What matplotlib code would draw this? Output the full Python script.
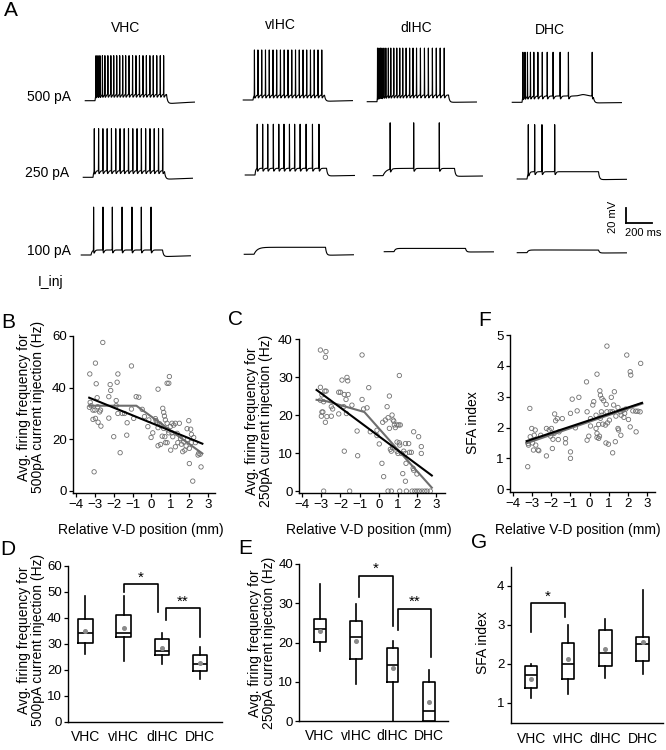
import numpy as np
import matplotlib
matplotlib.use('Agg')
import matplotlib.pyplot as plt

plt.rcParams['font.family'] = ['Liberation Sans', 'DejaVu Sans']

W, H = 666, 750
fig = plt.figure(figsize=(6.66, 7.5), dpi=100)

# ------------------------------------------------------------------ data
cells = ['VHC', 'vIHC', 'dIHC', 'DHC']
current_labels = ['500 pA', '250 pA', '100 pA']

# spike times (ms after step onset)
spk_VHC_500 = [8, 23, 38, 57, 76, 99, 122, 144, 167, 190, 213, 236, 262, 289, 315,
               342, 369, 395, 422, 448, 475, 502, 528]
spk_vIHC_500 = [11, 38, 67, 96, 125, 154, 182, 211, 240, 269, 298, 327, 356, 385,
                413, 442, 471, 500, 529]
spk_dIHC_500 = [4, 15, 27, 38, 53, 68, 87, 106, 129, 152, 175, 198, 224, 251, 277,
                304, 334, 365, 395, 426, 456, 486, 517]
spk_DHC_500 = [7, 23, 42, 65, 91, 122, 156, 194, 239, 293, 357, 540]
spk_VHC_250 = [10, 43, 76, 109, 142, 175, 208, 240, 273, 306, 339, 372, 405, 438,
               471, 504, 536]
spk_vIHC_250 = [17, 59, 98, 141, 183, 223, 265, 305, 347, 393, 442, 492]
spk_dIHC_250 = [55, 236, 433]
spk_DHC_250 = [10, 59, 115, 213]
spk_VHC_100 = [20, 92, 164, 239, 315, 387, 462]
spk_vIHC_100 = []
spk_dIHC_100 = []
spk_DHC_100 = []

# steady depolarisation during step (mV), spike peak above rest (mV)
plateau_500 = [9, 7, 9.4, 8.8]
plateau_250 = [9.2, 9.4, 10.2, 10.2]
plateau_100 = [7, 9.8, 4.6, 3.8]
peak_500 = [63, 70, 75, 70]
peak_250 = [68, 71, 74, 76]
peak_100 = [67, 0, 0, 0]
undershoot_500 = [4.5, 2, 1, 1]
undershoot_250 = [3, 1.5, 1, 1]
undershoot_100 = [2.5, 1.5, 0.5, 0.5]
tau_on_500 = [5, 5, 5, 5]
tau_on_250 = [5, 5, 25, 8]
tau_on_100 = [8, 25, 10, 10]
bump_DHC_500 = [(470, 2.0)]

# Panel B: firing at 500 pA vs position
B_x = [-3.27, -2.97, -2.58, -2.93, -2.88, -3.25, -3.29, -3.2, -3.1, -3.0, -2.85, -2.7, -2.75,
       -3.1, -2.97, -2.83, -2.68, -3.04, -2.26, -2.16, -2.19, -1.87, -1.87, -2.26, -2.0,
       -1.78, -1.82, -1.78, -1.66, -1.55, -1.43, -1.29, -1.31, -1.06, -1.06, -0.94, -0.81,
       -0.67, -0.49, -0.37, -0.19, -0.14, -0.02, 0.07, 0.21, 0.25, 0.35, 0.30, 0.35, 0.35,
       0.44, 0.48, 0.52, 0.57, 0.60, 0.65, 0.69, 0.65, 0.71, 0.74, 0.74, 0.83, 0.92, 0.95,
       0.83, 0.88, 0.83, 0.92, 1.0, 1.02, 1.09, 1.09, 1.13, 1.18, 1.27, 1.27, 1.36, 1.40,
       1.48, 1.54, 1.59, 1.66, 1.71, 1.77, 1.84, 1.91, 1.89, 1.98, 2.01, 2.08, 2.12, 2.01,
       2.12, 2.24, 2.33, 2.19, 2.47, 2.51, 2.58, 2.63]
B_y = [45.3, 49.5, 57.5, 41.5, 36.1, 34.3, 32.4, 33.0, 31.3, 31.3, 32.6, 31.3, 30.6,
       27.7, 28.1, 26.6, 25.1, 7.4, 36.5, 38.9, 41.2, 35.0, 33.0, 28.2, 21.0,
       45.3, 42.1, 30.0, 14.8, 30.0, 30.0, 26.4, 21.6, 48.4, 31.7, 28.1, 36.5,
       36.3, 31.6, 28.8, 24.9, 27.5, 20.7, 22.5, 28.0, 27.2, 39.4, 26.5, 24.5, 17.5,
       26.0, 18.0, 25.3, 21.2, 32.0, 30.4, 29.0, 24.2, 21.0, 27.5, 18.7, 41.7, 41.7, 44.3,
       26.2, 23.6, 18.7, 22.5, 24.9, 15.8, 26.2, 22.5, 21.0, 25.5, 17.1, 26.2, 22.3, 18.7,
       26.2, 20.3, 18.1, 15.2, 19.0, 15.8, 17.4, 19.9, 24.1, 27.2, 16.5, 23.9, 18.7, 10.6,
       21.9, 20.7, 18.7, 3.8, 13.9, 14.6, 14.2, 9.3]
B_lin_x = [-3.3, 2.7]
B_lin_y = [36.1, 18.3]
B_seg_x = [-3.3, -0.8, 2.7]
B_seg_y = [33.0, 33.0, 14.5]

# Panel C: firing at 250 pA vs position
C_x = [-3.05, -2.76, -2.79, -3.05, -2.82, -2.75, -2.97, -3.05, -2.88, -2.97, -2.92, -3.0,
       -2.71, -2.79, -2.48, -2.48, -2.41, -2.09, -2.09, -2.0, -1.92, -1.8, -1.71, -1.66,
       -1.62, -1.6, -1.83, -1.69, -1.8, -1.52, -2.88, -1.4, -1.13, -1.1, -0.87, -0.87,
       -0.79, -0.61, -0.52, -0.44, -0.09, -0.09, 0.03, 0.17, 0.26, 0.21, 0.35, 0.44, 0.49,
       0.56, 0.56, 0.70, 0.75, 0.79, 0.82, 0.61, 0.66, 0.73, 0.87, 0.96, 1.05, 1.13, 1.08,
       0.96, 1.08, 1.10, 1.19, 1.01, 0.96, 1.31, 1.40, 1.40, 1.57, 1.43, 1.26, 1.40, 1.61,
       1.71, 1.83, 1.83, 2.09, 2.23, 2.23, 0.49, 0.66, 1.10, 1.45, 1.75, 1.89, 2.01, 2.13,
       2.27, 2.41, 2.53, 2.70, 2.0, 1.8]
C_y = [37.1, 36.7, 35.2, 27.3, 26.3, 26.3, 25.3, 23.9, 23.5, 20.8, 20.8, 19.7,
       19.6, 18.1, 19.7, 22.2, 21.6, 20.3, 26.0, 26.0, 29.2, 25.4, 24.1, 29.9,
       29.0, 25.4, 22.2, 20.4, 10.5, 0.0, 0.0, 22.6, 15.8, 9.3, 35.8, 24.1,
       21.6, 21.9, 27.2, 15.6, 14.6, 16.0, 12.4, 7.3, 3.8, 18.1, 18.7, 22.2, 19.3,
       25.0, 16.5, 20.0, 18.7, 18.4, 17.4, 11.0, 10.5, 11.4, 16.7, 17.4, 17.4, 17.4, 30.4,
       12.9, 12.7, 12.1, 9.9, 9.9, 10.5, 10.5, 9.9, 12.5, 12.5, 7.3, 4.6, 2.6, 10.2,
       10.2, 5.5, 15.6, 14.3, 11.7, 9.9, 0.0, 0.0, 0.0, 0.0, 0.0, 0.0, 0.0, 0.0,
       0.0, 0.0, 0.0, 0.0, 4.5, 6.0]
C_lin_x = [-3.25, 2.78]
C_lin_y = [26.6, 4.1]
C_seg_x = [-3.25, -2.7, -0.75, 1.05, 2.78]
C_seg_y = [24.0, 23.6, 20.8, 10.6, 0.9]

# Panel F: SFA index vs position
F_x = [-3.24, -3.13, -3.22, -3.2, -3.11, -3.03, -2.99, -2.9, -2.85, -2.94, -2.82, -2.7,
       -2.66, -2.56, -2.26, -2.26, -2.12, -2.0, -2.04, -1.95, -1.92, -1.86, -1.83, -1.78,
       -1.69, -1.64, -1.6, -1.43, -1.26, -1.26, -1.0, -1.0, -1.0, -0.91, -0.74, -0.65,
       -0.56, -0.16, -0.13, -0.13, -0.04, 0.05, 0.17, 0.22, 0.39, 0.34, 0.39, 0.39, 0.48,
       0.52, 0.54, 0.57, 0.62, 0.65, 0.69, 0.74, 0.83, 0.86, 0.91, 0.91, 0.94, 0.99, 1.04,
       1.09, 1.14, 1.21, 1.26, 1.30, 1.35, 1.38, 1.49, 1.52, 1.61, 1.64, 1.21, 1.66, 1.75,
       1.80, 1.84, 1.95, 2.04, 2.13, 2.16, 2.13, 2.27, 2.42, 2.53, 2.44, 2.65, 2.68, 1.90,
       1.49, 0.48, 0.57, 0.05, 0.87, 0.34, 0.65]
F_y = [0.73, 2.62, 1.48, 1.43, 1.70, 1.97, 1.50, 1.75, 1.92, 1.27, 1.43, 1.27,
       1.25, 1.75, 1.08, 1.97, 1.92, 1.97, 1.72, 1.32, 1.62, 1.81, 2.44, 2.22,
       2.29, 1.61, 1.86, 2.29, 1.64, 1.50, 1.21, 1.00, 2.46, 2.92, 1.99, 2.54,
       2.98, 3.48, 2.51, 1.59, 1.72, 2.29, 2.73, 2.84, 3.73, 1.97, 1.81, 1.68, 1.65,
       1.72, 3.19, 3.05, 2.51, 2.94, 2.11, 2.87, 2.08, 1.50, 4.64, 2.51, 2.15, 1.46, 2.24,
       2.51, 2.98, 2.51, 2.73, 3.16, 1.54, 2.37, 1.97, 1.92, 2.51, 1.75, 1.18, 2.40, 2.56,
       2.33, 2.46, 4.35, 2.26, 3.81, 3.70, 2.02, 2.54, 2.53, 2.53, 1.86, 2.51, 4.08, 2.60,
       2.65, 2.10, 2.30, 2.05, 2.75, 2.40, 2.40]
F_lin_x = [-3.3, 2.75]
F_lin_y = [1.56, 2.80]
F_seg_x = [-3.3, 2.75]
F_seg_y = [1.50, 2.78]

# Box plots: whislo, q1, median, q3, whishi, mean  (order VHC, vIHC, dIHC, DHC)
D_whislo = [26.0, 23.5, 22.2, 16.3]
D_q1 = [30.1, 32.4, 25.6, 19.5]
D_med = [34.0, 34.2, 27.3, 22.2]
D_q3 = [39.4, 41.0, 32.0, 25.6]
D_whishi = [48.3, 48.3, 34.0, 28.8]
D_mean = [35.0, 35.9, 28.2, 22.4]

E_whislo = [17.9, 9.4, 0.0, 0.0]
E_q1 = [20.2, 15.8, 10.0, 0.0]
E_med = [23.4, 21.5, 14.3, 2.6]
E_q3 = [26.0, 25.4, 18.6, 10.0]
E_whishi = [35.0, 29.8, 20.5, 12.9]
E_mean = [23.0, 20.3, 13.4, 4.9]

G_whislo = [1.11, 1.22, 1.64, 1.74]
G_q1 = [1.38, 1.62, 1.94, 2.07]
G_med = [1.71, 2.00, 2.28, 2.50]
G_q3 = [1.95, 2.54, 2.86, 2.69]
G_whishi = [2.00, 3.00, 3.15, 3.90]
G_mean = [1.61, 2.11, 2.39, 2.56]

# significance brackets: (x_left, x_right, y_left_end, y_top, y_right_end, label)
D_sig = [(1.0, 1.9, 50.0, 52.8, 42.3, '*'), (2.1, 3.0, 39.1, 43.6, 32.7, '**')]
E_sig = [(1.08, 2.0, 31.7, 36.9, 24.3, '*'), (2.15, 3.07, 23.2, 28.5, 16.4, '**')]
G_sig = [(0.0, 0.9, 2.82, 3.55, 3.20, '*')]

# ------------------------------------------------------------------ helpers
def fx(px):
    return px / W


def fy(py):
    return 1 - py / H


def add_ax(left, top, right, bottom):
    return fig.add_axes([left / W, 1 - bottom / H, (right - left) / W, (bottom - top) / H])


# ------------------------------------------------------------------ panel A
ms_per_px = 200 / 26.0
mv_per_px = 20 / 14.3
A_HEIGHT = 300
axA = fig.add_axes([0, 1 - A_HEIGHT / H, 1, A_HEIGHT / H])
axA.set_xlim(0, W * ms_per_px)
axA.set_ylim(-A_HEIGHT * mv_per_px, 0)
axA.axis('off')

DUR, PRE, POST = 550, 75, 215


def make_trace(spk, plat, peak, under, tau_on, bumps=()):
    t = np.arange(-PRE, DUR + POST, 0.25)
    v = np.zeros_like(t)
    on = (t >= 0) & (t < DUR)
    v[on] = plat * (1 - np.exp(-t[on] / tau_on))
    off = t >= DUR
    d_off = t[off] - DUR
    v[off] = plat * np.exp(-d_off / 7) - under * (1 - np.exp(-d_off / 12)) * np.exp(-d_off / 260)
    for bt, ba in bumps:
        v += ba * np.exp(-((t - bt) / 35) ** 2)
    for s in spk:
        d = t - s
        sub = np.interp(s, t, v)
        v = v + (peak - sub) * np.exp(-(d / 0.8) ** 2)
        m = d > 0.5
        v[m] -= 4.0 * (d[m] / 4) * np.exp(1 - d[m] / 4)
    return t, v


onset_px = [[95, 253, 377, 522], [93, 255, 383, 527], [91, 254, 394, 527]]
base_px = [[100.7, 100, 101.7, 102.3], [177.3, 175, 175.7, 179], [255, 254.3, 251.7, 252.7]]

rows = [
    ([spk_VHC_500, spk_vIHC_500, spk_dIHC_500, spk_DHC_500], plateau_500, peak_500,
     undershoot_500, tau_on_500),
    ([spk_VHC_250, spk_vIHC_250, spk_dIHC_250, spk_DHC_250], plateau_250, peak_250,
     undershoot_250, tau_on_250),
    ([spk_VHC_100, spk_vIHC_100, spk_dIHC_100, spk_DHC_100], plateau_100, peak_100,
     undershoot_100, tau_on_100),
]
for r, (spks, plats, peaks, unders, taus) in enumerate(rows):
    for c in range(4):
        bumps = bump_DHC_500 if (r == 0 and c == 3) else ()
        t, v = make_trace(spks[c], plats[c], peaks[c], unders[c], taus[c], bumps)
        axA.plot(onset_px[r][c] * ms_per_px + t, -base_px[r][c] * mv_per_px + v,
                 color='k', lw=0.8)

# scale bar
sx, sy = 625.5 * ms_per_px, -222.7 * mv_per_px
axA.plot([sx, sx], [sy, sy + 20], color='k', lw=1.3)
axA.plot([sx, sx + 200], [sy, sy], color='k', lw=1.3)
fig.text(fx(613.5), fy(216.7), '20 mV', rotation=90, ha='center', va='center', fontsize=8)
fig.text(fx(643), fy(233.3), '200 ms', ha='center', va='center', fontsize=8)

fig.text(fx(11), fy(11), 'A', ha='center', va='center', fontsize=15)
for name, (x, y) in zip(cells, [(126, 28.3), (280, 25), (416, 28.3), (550, 30)]):
    fig.text(fx(x), fy(y), name, ha='center', va='center', fontsize=10)
for lab, (x, y) in zip(current_labels, [(49, 97.3), (47.5, 173.3), (49, 250.7)]):
    fig.text(fx(x), fy(y), lab, ha='center', va='center', fontsize=10)
fig.text(fx(51), fy(281.7), 'I_inj', ha='center', va='center', fontsize=10)


# ------------------------------------------------------------------ styling
def style(ax):
    for s in ['top', 'right']:
        ax.spines[s].set_visible(False)
    for s in ['left', 'bottom']:
        ax.spines[s].set_linewidth(1.0)
    ax.tick_params(direction='out', length=3, width=0.9, labelsize=9.5, pad=1.5)


scatter_kw = dict(s=10, facecolors='none', edgecolors='#707070', linewidths=0.6, zorder=2)

# B
axB = add_ax(73, 336, 215, 493)
style(axB)
axB.scatter(B_x, B_y, **scatter_kw)
axB.plot(B_seg_x, B_seg_y, color='#6e6e6e', lw=1.5, zorder=3)
axB.plot(B_lin_x, B_lin_y, color='k', lw=1.5, zorder=4)
axB.set_xlim(-4.16, 3.37)
axB.set_ylim(-0.8, 60)
axB.set_xticks(range(-4, 4))
axB.set_yticks([0, 20, 40, 60])

# C
axC = add_ax(299, 339, 445, 493)
style(axC)
axC.scatter(C_x, C_y, **scatter_kw)
axC.plot(C_seg_x, C_seg_y, color='#6e6e6e', lw=1.5, zorder=3)
axC.plot(C_lin_x, C_lin_y, color='k', lw=1.5, zorder=4)
axC.set_xlim(-4.17, 3.47)
axC.set_ylim(-0.5, 40)
axC.set_xticks(range(-4, 4))
axC.set_yticks([0, 10, 20, 30, 40])

# F
axF = add_ax(510, 335, 655, 492)
style(axF)
axF.scatter(F_x, F_y, **scatter_kw)
axF.plot(F_seg_x, F_seg_y, color='#6e6e6e', lw=1.8, zorder=3)
axF.plot(F_lin_x, F_lin_y, color='k', lw=1.5, zorder=4)
axF.set_xlim(-4.17, 3.43)
axF.set_ylim(-0.09, 5)
axF.set_xticks(range(-4, 4))
axF.set_yticks([0, 1, 2, 3, 4, 5])

for x in [141, 369, 578]:
    fig.text(fx(x), fy(530), 'Relative V-D position (mm)', ha='center', va='center',
             fontsize=10)

# labels
ylab_500 = 'Avg. firing frequency for\n500pA current injection (Hz)'
ylab_250 = 'Avg. firing frequency for\n250pA current injection (Hz)'
fig.text(fx(31.5), fy(407), ylab_500, rotation=90, ha='center', va='center',
         fontsize=10, linespacing=1.0, multialignment='center')
fig.text(fx(259), fy(421), ylab_250, rotation=90, ha='center', va='center',
         fontsize=10, linespacing=1.0, multialignment='center')
fig.text(fx(473), fy(423), 'SFA index', rotation=90, ha='center', va='center', fontsize=10)
fig.text(fx(31.3), fy(640), ylab_500, rotation=90, ha='center', va='center',
         fontsize=10, linespacing=1.0, multialignment='center')
fig.text(fx(262), fy(643), ylab_250, rotation=90, ha='center', va='center',
         fontsize=10, linespacing=1.0, multialignment='center')
fig.text(fx(483), fy(643), 'SFA index', rotation=90, ha='center', va='center', fontsize=10)

for L, (x, y) in zip('BCFDEG', [(8, 322), (235.5, 319.5), (485, 320.5), (8, 549.5),
                                 (245.5, 549), (479.5, 542.5)]):
    fig.text(fx(x), fy(y), L, ha='center', va='center', fontsize=15)


# ------------------------------------------------------------------ box plots
def boxpanel(ax, wlo, q1, med, q3, whi, mean, width, sig, star_size=11):
    style(ax)
    stats = [dict(whislo=wlo[i], q1=q1[i], med=med[i], q3=q3[i], whishi=whi[i],
                  mean=mean[i], fliers=[]) for i in range(len(cells))]
    ax.bxp(stats, positions=range(len(cells)), widths=width, showmeans=True,
           showcaps=False, showfliers=False,
           boxprops=dict(color='k', lw=1.2),
           whiskerprops=dict(color='k', lw=1.2),
           medianprops=dict(color='k', lw=1.2),
           meanprops=dict(marker='o', markersize=2.6, markerfacecolor='#8a8a8a',
                          markeredgecolor='#8a8a8a'))
    ax.set_xticks(range(len(cells)))
    ax.set_xticklabels(cells, fontsize=10)
    ax.tick_params(axis='x', length=0, pad=6)
    for (x1, x2, y1, h, y2, lab) in sig:
        ax.plot([x1, x1, x2, x2], [y1, h, h, y2], color='k', lw=1.2, clip_on=False)
        ax.text((x1 + x2) / 2, h, lab, ha='center', va='bottom', fontsize=star_size)


axD = add_ax(68, 565.7, 222, 721.7)
boxpanel(axD, D_whislo, D_q1, D_med, D_q3, D_whishi, D_mean, 0.38, D_sig)
axD.set_xlim(-0.45, 3.57)
axD.set_ylim(0, 60)
axD.set_yticks(range(0, 61, 10))

axE = add_ax(299.3, 564, 448, 721)
boxpanel(axE, E_whislo, E_q1, E_med, E_q3, E_whishi, E_mean, 0.33, E_sig)
axE.set_xlim(-0.57, 3.53)
axE.set_ylim(0, 40)
axE.set_yticks(range(0, 41, 10))

axG = add_ax(510.7, 566.7, 662.7, 723.3)
boxpanel(axG, G_whislo, G_q1, G_med, G_q3, G_whishi, G_mean, 0.33, G_sig)
axG.set_xlim(-0.55, 3.54)
axG.set_ylim(0.47, 4.49)
axG.set_yticks([1, 2, 3, 4])

fig.savefig('out.png', dpi=100)
